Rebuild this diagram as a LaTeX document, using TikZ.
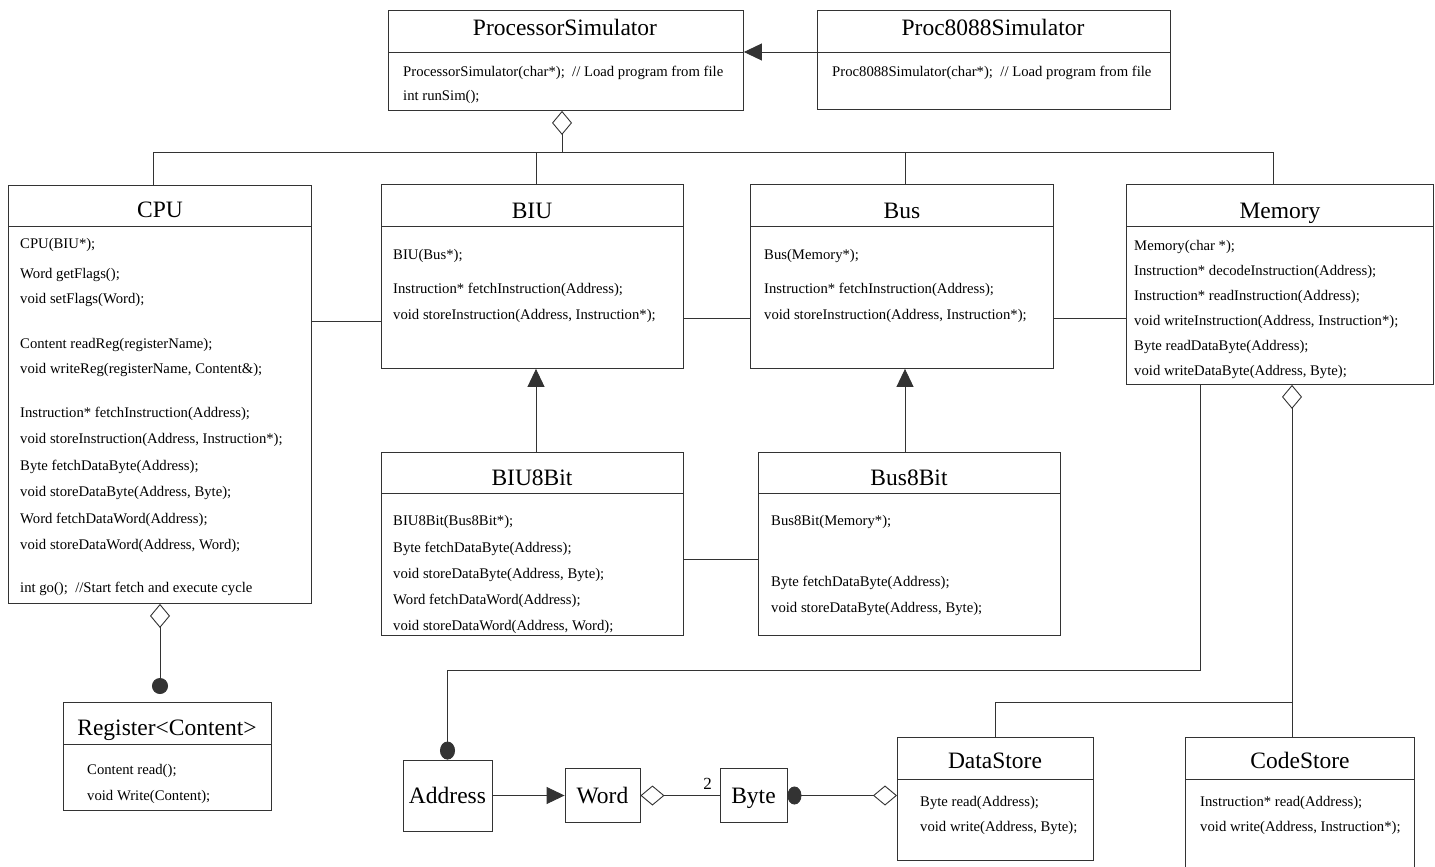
\documentclass[tikz,border=0pt]{standalone}
\usepackage{fontspec}
\setmainfont{Liberation Serif}
\usepackage{tikz}
\usetikzlibrary{positioning, arrows.meta}
\definecolor{umlline}{HTML}{333333}
\newcommand{\titlesize}{\fontsize{23.5}{27}\selectfont}
\newcommand{\membersize}{\fontsize{14.7}{17}\selectfont}

\tikzset{
  classbox/.style={draw=umlline, line width=0.9pt, anchor=north west, inner sep=0pt},
  classname/.style={font=\titlesize, anchor=base, inner sep=0pt},
  member/.style={font=\membersize, anchor=west, inner sep=0pt},
  valuebox/.style={draw=umlline, line width=0.9pt, font=\titlesize, inner sep=0pt,
    text height=15pt, text depth=0pt},
  link/.style={draw=umlline, line width=0.9pt},
  inherit/.style={link, -{Triangle[length=18pt, width=17pt]}},
  aggr/.style={link, {Diamond[open, length=24pt, width=20pt]}-},
  aggdot/.style={link, {Diamond[open, length=24pt, width=20pt]}-{Circle[length=16pt]}},
}

\begin{document}
\begin{tikzpicture}[x=1pt, y=-1pt]
  \useasboundingbox (0,0) rectangle (1435,867);
  \clip (0,0) rectangle (1435,867);

  % simulators
  \node[classbox, minimum width=355pt, minimum height=100pt] (procsim) at (388,10) {};
  \draw[link] (procsim.west |- 0,52) -- (procsim.east |- 0,52);
  \node[classname] (procsim-name) at (565,36) {ProcessorSimulator};
  \node[member] (procsim-1) at (403,73) {ProcessorSimulator(char*);~~// Load program from file};
  \node[member] (procsim-2) at (403,97) {int runSim();};

  \node[classbox, minimum width=353pt, minimum height=99pt] (p8088) at (817,10) {};
  \draw[link] (p8088.west |- 0,52) -- (p8088.east |- 0,52);
  \node[classname] (p8088-name) at (993,36) {Proc8088Simulator};
  \node[member] (p8088-1) at (832,73) {Proc8088Simulator(char*);~~// Load program from file};

  % CPU
  \node[classbox, minimum width=303pt, minimum height=418pt] (cpu) at (8,185) {};
  \draw[link] (cpu.west |- 0,226) -- (cpu.east |- 0,226);
  \node[classname] (cpu-name) at (160,217) {CPU};
  \foreach \y/\txt in {245/{CPU(BIU*);}, 275/{Word getFlags();}, 300/{void setFlags(Word);},
      345/{Content readReg(registerName);}, 370/{void writeReg(registerName, Content\&);},
      414/{Instruction* fetchInstruction(Address);}, 440/{void storeInstruction(Address, Instruction*);},
      467/{Byte fetchDataByte(Address);}, 493/{void storeDataByte(Address, Byte);},
      520/{Word fetchDataWord(Address);}, 546/{void storeDataWord(Address, Word);}}
    \node[member] (cpu-\y) at (20,\y) {\txt};
  \node[member] (cpu-go) at (20,589) {int go();~~//Start fetch and execute cycle};

  % BIU and Bus
  \node[classbox, minimum width=302pt, minimum height=184pt] (biu) at (381,184) {};
  \draw[link] (biu.west |- 0,226) -- (biu.east |- 0,226);
  \node[classname] (biu-name) at (532,218) {BIU};
  \foreach \y/\txt in {256/{BIU(Bus*);}, 290/{Instruction* fetchInstruction(Address);},
      316/{void storeInstruction(Address, Instruction*);}}
    \node[member] (biu-\y) at (393,\y) {\txt};

  \node[classbox, minimum width=303pt, minimum height=184pt] (bus) at (750,184) {};
  \draw[link] (bus.west |- 0,226) -- (bus.east |- 0,226);
  \node[classname] (bus-name) at (902,218) {Bus};
  \foreach \y/\txt in {256/{Bus(Memory*);}, 290/{Instruction* fetchInstruction(Address);},
      316/{void storeInstruction(Address, Instruction*);}}
    \node[member] (bus-\y) at (764,\y) {\txt};

  % Memory
  \node[classbox, minimum width=307pt, minimum height=200pt] (mem) at (1126,184) {};
  \draw[link] (mem.west |- 0,226) -- (mem.east |- 0,226);
  \node[classname] (mem-name) at (1280,218) {Memory};
  \foreach \y/\txt in {247/{Memory(char *);}, 272/{Instruction* decodeInstruction(Address);},
      297/{Instruction* readInstruction(Address);}, 322/{void writeInstruction(Address, Instruction*);},
      347/{Byte readDataByte(Address);}, 372/{void writeDataByte(Address, Byte);}}
    \node[member] (mem-\y) at (1134,\y) {\txt};

  % 8 bit versions
  \node[classbox, minimum width=302pt, minimum height=183pt] (biu8) at (381,452) {};
  \draw[link] (biu8.west |- 0,493) -- (biu8.east |- 0,493);
  \node[classname] (biu8-name) at (532,485) {BIU8Bit};
  \foreach \y/\txt in {522/{BIU8Bit(Bus8Bit*);}, 549/{Byte fetchDataByte(Address);},
      575/{void storeDataByte(Address, Byte);}, 601/{Word fetchDataWord(Address);},
      627/{void storeDataWord(Address, Word);}}
    \node[member] (biu8-\y) at (393,\y) {\txt};

  \node[classbox, minimum width=302pt, minimum height=183pt] (bus8) at (758,452) {};
  \draw[link] (bus8.west |- 0,493) -- (bus8.east |- 0,493);
  \node[classname] (bus8-name) at (909,485) {Bus8Bit};
  \foreach \y/\txt in {522/{Bus8Bit(Memory*);}, 583/{Byte fetchDataByte(Address);},
      609/{void storeDataByte(Address, Byte);}}
    \node[member] (bus8-\y) at (771,\y) {\txt};

  % register
  \node[classbox, minimum width=208pt, minimum height=108pt] (reg) at (63,702) {};
  \draw[link] (reg.west |- 0,744) -- (reg.east |- 0,744);
  \node[classname] (reg-name) at (167,735) {Register<Content>};
  \node[member] (reg-1) at (87,771) {Content read();};
  \node[member] (reg-2) at (87,797) {void Write(Content);};

  % stores
  \node[classbox, minimum width=196pt, minimum height=123pt] (data) at (897,737) {};
  \draw[link] (data.west |- 0,779) -- (data.east |- 0,779);
  \node[classname] (data-name) at (995,768) {DataStore};
  \node[member] (data-1) at (920,803) {Byte read(Address);};
  \node[member] (data-2) at (920,828) {void write(Address, Byte);};

  \node[classbox, minimum width=229pt, minimum height=150pt] (code) at (1185,737) {};
  \draw[link] (code.west |- 0,779) -- (code.east |- 0,779);
  \node[classname] (code-name) at (1300,768) {CodeStore};
  \node[member] (code-1) at (1200,803) {Instruction* read(Address);};
  \node[member] (code-2) at (1200,828) {void write(Address, Instruction*);};

  % value types
  \node[valuebox, minimum width=89pt, minimum height=71pt] (addr) at (447.5,795.5) {Address};
  \node[valuebox, minimum width=75pt, minimum height=54pt] (word) at (602.5,795.5) {Word};
  \node[valuebox, minimum width=67pt, minimum height=54pt] (byte) at (753.5,795.5) {Byte};

  % connectors
  \coordinate (hub) at (562,152);
  \draw[aggr] (procsim.south -| hub) -- (hub);
  \draw[link] (cpu.north -| 153,0) |- (hub);
  \draw[link] (biu.north -| 536,0) |- (hub);
  \draw[link] (bus.north -| 905,0) |- (hub);
  \draw[link] (mem.north -| 1273,0) |- (hub);
  \draw[inherit] (p8088.west |- 0,52) -- (procsim.east |- 0,52);

  \draw[link] (cpu.east |- 0,321) -- (biu.west |- 0,321);
  \draw[link] (biu.east |- 0,318) -- (bus.west |- 0,318);
  \draw[link] (bus.east |- 0,318) -- (mem.west |- 0,318);
  \draw[inherit] (biu8.north -| 536,0) -- (biu.south -| 536,0);
  \draw[inherit] (bus8.north -| 905,0) -- (bus.south -| 905,0);
  \draw[link] (biu8.east |- 0,559) -- (bus8.west |- 0,559);

  \draw[aggdot, shorten >=8pt] (cpu.south -| 160,0) -- (reg.north -| 160,0);

  \draw[link, -{Circle[length=18pt, width=15pt]}] (mem.south -| 1200,0) |- (addr.north |- 0,670) -- (addr.north);
  \coordinate (memjoin) at (1292,702);
  \draw[aggr] (mem.south -| memjoin) -- (code.north -| memjoin);
  \draw[link] (data.north) |- (memjoin);

  \draw[inherit] (addr.east) -- (word.west);
  \draw[aggr] (word.east) -- (byte.west) node[pos=0.85, above=2pt, font=\fontsize{17}{19}\selectfont] (mult) {2};
  \draw[link, {Circle[length=14pt, width=18pt]}-{Diamond[open, length=24pt, width=20pt]}] (byte.east) -- (data.west |- byte.east);
\end{tikzpicture}
\end{document}
